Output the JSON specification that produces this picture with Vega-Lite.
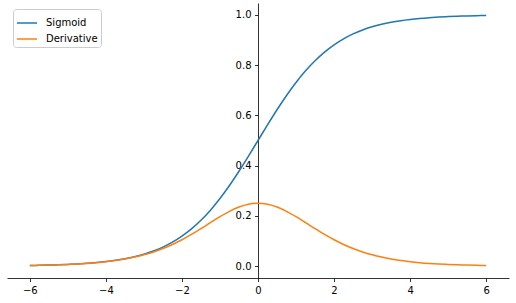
{
  "$schema": "https://vega.github.io/schema/vega-lite/v6.json",
  "width": 502,
  "height": 275,
  "autosize": "none",
  "padding": {"left": 7, "top": 3, "right": 7, "bottom": 25},
  "background": "white",
  "config": {
    "view": {"stroke": null},
    "font": "DejaVu Sans",
    "axis": {"grid": false, "domainColor": "#000", "domainWidth": 0.8, "tickColor": "#000", "tickWidth": 0.8, "tickSize": 3.5, "labelFontSize": 10, "labelColor": "#000", "labelPadding": 3.5, "title": null, "labelFont": "DejaVu Sans"}
  },
  "data": {"values": [
    {"x": -6, "Sigmoid": 0.002473, "Derivative": 0.002467},
    {"x": -5.75, "Sigmoid": 0.003173, "Derivative": 0.003163},
    {"x": -5.5, "Sigmoid": 0.00407, "Derivative": 0.004054},
    {"x": -5.25, "Sigmoid": 0.00522, "Derivative": 0.005193},
    {"x": -5, "Sigmoid": 0.006693, "Derivative": 0.006648},
    {"x": -4.75, "Sigmoid": 0.008577, "Derivative": 0.008504},
    {"x": -4.5, "Sigmoid": 0.010987, "Derivative": 0.010866},
    {"x": -4.25, "Sigmoid": 0.014064, "Derivative": 0.013866},
    {"x": -4, "Sigmoid": 0.017986, "Derivative": 0.017663},
    {"x": -3.75, "Sigmoid": 0.022977, "Derivative": 0.022449},
    {"x": -3.5, "Sigmoid": 0.029312, "Derivative": 0.028453},
    {"x": -3.25, "Sigmoid": 0.037327, "Derivative": 0.035934},
    {"x": -3, "Sigmoid": 0.047426, "Derivative": 0.045177},
    {"x": -2.75, "Sigmoid": 0.060086, "Derivative": 0.056476},
    {"x": -2.5, "Sigmoid": 0.075858, "Derivative": 0.070104},
    {"x": -2.25, "Sigmoid": 0.095349, "Derivative": 0.086257},
    {"x": -2, "Sigmoid": 0.119203, "Derivative": 0.104994},
    {"x": -1.75, "Sigmoid": 0.148047, "Derivative": 0.126129},
    {"x": -1.5, "Sigmoid": 0.182426, "Derivative": 0.149146},
    {"x": -1.25, "Sigmoid": 0.2227, "Derivative": 0.173104},
    {"x": -1, "Sigmoid": 0.268941, "Derivative": 0.196612},
    {"x": -0.75, "Sigmoid": 0.320821, "Derivative": 0.217894},
    {"x": -0.5, "Sigmoid": 0.377541, "Derivative": 0.235004},
    {"x": -0.25, "Sigmoid": 0.437823, "Derivative": 0.246134},
    {"x": 0, "Sigmoid": 0.5, "Derivative": 0.25},
    {"x": 0.25, "Sigmoid": 0.562177, "Derivative": 0.246134},
    {"x": 0.5, "Sigmoid": 0.622459, "Derivative": 0.235004},
    {"x": 0.75, "Sigmoid": 0.679179, "Derivative": 0.217894},
    {"x": 1, "Sigmoid": 0.731059, "Derivative": 0.196612},
    {"x": 1.25, "Sigmoid": 0.7773, "Derivative": 0.173104},
    {"x": 1.5, "Sigmoid": 0.817574, "Derivative": 0.149146},
    {"x": 1.75, "Sigmoid": 0.851953, "Derivative": 0.126129},
    {"x": 2, "Sigmoid": 0.880797, "Derivative": 0.104994},
    {"x": 2.25, "Sigmoid": 0.904651, "Derivative": 0.086257},
    {"x": 2.5, "Sigmoid": 0.924142, "Derivative": 0.070104},
    {"x": 2.75, "Sigmoid": 0.939914, "Derivative": 0.056476},
    {"x": 3, "Sigmoid": 0.952574, "Derivative": 0.045177},
    {"x": 3.25, "Sigmoid": 0.962673, "Derivative": 0.035934},
    {"x": 3.5, "Sigmoid": 0.970688, "Derivative": 0.028453},
    {"x": 3.75, "Sigmoid": 0.977023, "Derivative": 0.022449},
    {"x": 4, "Sigmoid": 0.982014, "Derivative": 0.017663},
    {"x": 4.25, "Sigmoid": 0.985936, "Derivative": 0.013866},
    {"x": 4.5, "Sigmoid": 0.989013, "Derivative": 0.010866},
    {"x": 4.75, "Sigmoid": 0.991423, "Derivative": 0.008504},
    {"x": 5, "Sigmoid": 0.993307, "Derivative": 0.006648},
    {"x": 5.25, "Sigmoid": 0.99478, "Derivative": 0.005193},
    {"x": 5.5, "Sigmoid": 0.99593, "Derivative": 0.004054},
    {"x": 5.75, "Sigmoid": 0.996827, "Derivative": 0.003163},
    {"x": 6, "Sigmoid": 0.997527, "Derivative": 0.002467}
  ]},
  "transform": [{"fold": ["Sigmoid", "Derivative"], "as": ["series", "y"]}],
  "mark": {"type": "line", "strokeWidth": 1.5, "interpolate": "monotone"},
  "encoding": {
    "x": {"field": "x", "type": "quantitative", "scale": {"domain": [-6.6, 6.6], "nice": false, "zero": false},
      "axis": {"values": [-6, -4, -2, 0, 2, 4, 6], "format": "d", "labelExpr": "replace(datum.label, '-', '\u2212')"}},
    "y": {"field": "y", "type": "quantitative", "scale": {"domain": [-0.0473, 1.0473], "nice": false, "zero": false},
      "axis": {"values": [0, 0.2, 0.4, 0.6, 0.8, 1.0], "format": ".1f", "offset": -251}},
    "color": {"field": "series", "type": "nominal", "sort": ["Sigmoid", "Derivative"],
      "scale": {"domain": ["Sigmoid", "Derivative"], "range": ["#1f77b4", "#ff7f0e"]},
      "legend": {"title": null, "orient": "top-left", "offset": 6, "symbolType": "stroke", "symbolSize": 400, "symbolStrokeWidth": 1.5,
        "labelFontSize": 10, "labelColor": "#000", "labelOffset": 8, "strokeColor": "#cccccc", "cornerRadius": 3, "padding": 3, "fillColor": "white", "rowPadding": -3}}
  }
}
